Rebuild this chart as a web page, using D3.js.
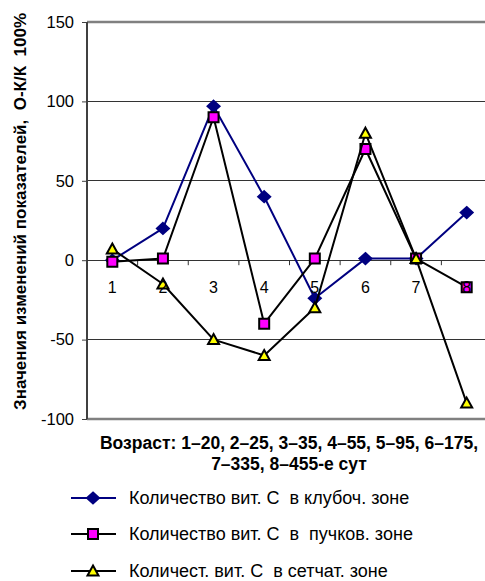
<!DOCTYPE html>
<html>
<head>
<meta charset="utf-8">
<script src="https://cdn.jsdelivr.net/npm/d3@7"></script>
<style>
  html, body { margin: 0; padding: 0; background: #fff; }
  svg { display: block; font-family: Arial, "Liberation Sans", sans-serif; }
</style>
</head>
<body>
<svg id="chart" width="485" height="581"></svg>
<script>
// Categories along the age axis
const categories = ["1", "2", "3", "4", "5", "6", "7", "8"];

// Change of vitamin C content, (O-K)/K * 100%
const klubochValues = [0, 20, 97, 40, -24, 1, 1, 30];
const puchkovValues = [-1, 1, 90, -40, 1, 70, 1, -17];
const setchatValues = [7, -15, -50, -60, -30, 80, 1, -90];

const yTicks = [-100, -50, 0, 50, 100, 150];

const seriesNames = [
  "Количество вит. С  в клубоч. зоне",
  "Количество вит. С  в  пучков. зоне",
  "Количест. вит. С  в сетчат. зоне"
];

const series = [
  { name: seriesNames[0], values: klubochValues, line: "#000080", marker: "diamond", fill: "#000080", stroke: "#000080" },
  { name: seriesNames[1], values: puchkovValues, line: "#000000", marker: "square", fill: "#FF00FF", stroke: "#000000" },
  { name: seriesNames[2], values: setchatValues, line: "#000000", marker: "triangle", fill: "#FFFF00", stroke: "#000000" }
];

const svg = d3.select("#chart");

const plotLeft = 87, plotRight = 492, plotTop = 22, plotBottom = 419;

const x = d3.scaleBand().domain(categories).range([plotLeft, plotRight]).paddingInner(0).paddingOuter(0);
const y = d3.scaleLinear().domain([-100, 150]).range([plotBottom, plotTop]);
const cx = c => x(c) + x.bandwidth() / 2;

// Horizontal gridlines
svg.append("g")
  .selectAll("line")
  .data([-50, 50, 100])
  .join("line")
  .attr("x1", plotLeft).attr("x2", plotRight)
  .attr("y1", d => y(d)).attr("y2", d => y(d))
  .attr("stroke", "#333").attr("stroke-width", 1)
  .attr("shape-rendering", "crispEdges");

// Plot area border (top and bottom)
svg.append("g")
  .selectAll("line")
  .data([150, -100])
  .join("line")
  .attr("x1", plotLeft).attr("x2", plotRight)
  .attr("y1", d => y(d)).attr("y2", d => y(d))
  .attr("stroke", "#808080").attr("stroke-width", 2.5);

// Value axis
const yAxis = svg.append("g")
  .attr("transform", `translate(${plotLeft},0)`)
  .call(d3.axisLeft(y).tickValues(yTicks).tickSize(5).tickPadding(8).tickFormat(d => String(d)));
yAxis.select(".domain").attr("stroke", "#404040").attr("stroke-width", 2).attr("d", `M0,${plotTop}V${plotBottom}`);
yAxis.selectAll(".tick line").attr("stroke", "#404040").attr("stroke-width", 1);
yAxis.selectAll(".tick text").attr("font-size", 16.5).attr("font-family", "Arial, 'Liberation Sans', sans-serif").attr("fill", "#000");

// Category axis crossing at zero
const xAxisG = svg.append("g");
xAxisG.append("line")
  .attr("x1", plotLeft).attr("x2", plotRight)
  .attr("y1", y(0)).attr("y2", y(0))
  .attr("stroke", "#333").attr("stroke-width", 1)
  .attr("shape-rendering", "crispEdges");
xAxisG.selectAll("line.tick")
  .data(categories.slice(1))
  .join("line")
  .attr("class", "tick")
  .attr("x1", d => x(d)).attr("x2", d => x(d))
  .attr("y1", y(0)).attr("y2", y(0) + 5)
  .attr("stroke", "#333").attr("stroke-width", 1);

// Marker shapes
function markerPath(kind) {
  if (kind === "diamond") return "M0,-5.5L6,0L0,5.5L-6,0Z";
  if (kind === "square") return "M-5,-5H5V5H-5Z";
  return "M0,-5.5L5.5,4.5H-5.5Z";
}

const line = d3.line().x((d, i) => cx(categories[i])).y(d => y(d));

series.forEach(s => {
  const g = svg.append("g");
  g.append("path")
    .attr("d", line(s.values))
    .attr("fill", "none")
    .attr("stroke", s.line)
    .attr("stroke-width", 2)
    .attr("stroke-linejoin", "round");
  g.selectAll("path.m")
    .data(s.values)
    .join("path")
    .attr("class", "m")
    .attr("transform", (d, i) => `translate(${cx(categories[i])},${y(d)})`)
    .attr("d", markerPath(s.marker))
    .attr("fill", s.fill)
    .attr("stroke", s.stroke)
    .attr("stroke-width", 2)
    .attr("stroke-linejoin", "miter");
});

// Category labels
svg.append("g")
  .selectAll("text")
  .data(categories)
  .join("text")
  .attr("x", d => cx(d))
  .attr("y", y(0) + 33)
  .attr("text-anchor", "middle")
  .attr("font-size", 16)
  .attr("fill", "#000")
  .text(d => d);

// Axis titles
svg.append("text")
  .attr("transform", `translate(26,211.5) rotate(-90)`)
  .attr("text-anchor", "middle")
  .attr("font-size", 17)
  .attr("font-weight", "bold")
  .style("white-space", "pre")
  .text("Значения изменений показателей,  О-К/К  100%");

const xTitle = svg.append("text")
  .attr("text-anchor", "middle")
  .attr("font-size", 17.5)
  .attr("font-weight", "bold");
xTitle.append("tspan").attr("x", 289).attr("y", 449).text("Возраст: 1–20, 2–25, 3–35, 4–55, 5–95, 6–175,");
xTitle.append("tspan").attr("x", 289).attr("y", 470).text("7–335, 8–455-е сут");

// Legend
const legend = svg.append("g");
const legendY = [498, 534, 571];
series.forEach((s, i) => {
  const g = legend.append("g").attr("transform", `translate(0,${legendY[i]})`);
  g.append("line").attr("x1", 71).attr("x2", 116).attr("y1", 0).attr("y2", 0)
    .attr("stroke", s.line).attr("stroke-width", 2);
  g.append("path").attr("transform", "translate(93,0)").attr("d", markerPath(s.marker))
    .attr("fill", s.fill).attr("stroke", s.stroke).attr("stroke-width", 2);
  g.append("text").attr("x", 129).attr("y", 6)
    .attr("font-size", 18)
    .style("white-space", "pre")
    .attr("fill", "#000")
    .text(s.name);
});
</script>
</body>
</html>
